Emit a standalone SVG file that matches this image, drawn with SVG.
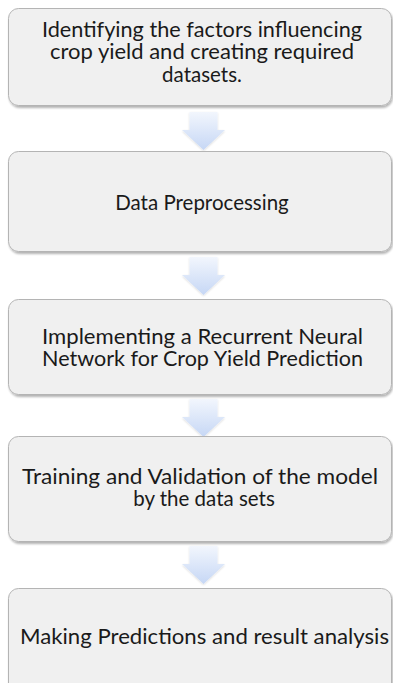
<svg xmlns="http://www.w3.org/2000/svg" width="393" height="683" viewBox="0 0 393 683">
  <defs>
    <linearGradient id="arrowFill" x1="0" y1="0" x2="0" y2="1">
      <stop offset="0" stop-color="#f2f6fd"/>
      <stop offset="1" stop-color="#c6d7f5"/>
    </linearGradient>
    <filter id="boxShadow" x="-5%" y="-5%" width="110%" height="115%">
      <feGaussianBlur in="SourceAlpha" stdDeviation="1"/>
      <feOffset dx="1" dy="1.5" result="b"/>
      <feComponentTransfer><feFuncA type="linear" slope="0.3"/></feComponentTransfer>
      <feMerge><feMergeNode/><feMergeNode in="SourceGraphic"/></feMerge>
    </filter>
    <filter id="arrowShadow" x="-20%" y="-20%" width="140%" height="140%">
      <feGaussianBlur in="SourceAlpha" stdDeviation="1"/>
      <feOffset dx="0" dy="1"/>
      <feComponentTransfer><feFuncA type="linear" slope="0.15"/></feComponentTransfer>
      <feMerge><feMergeNode/><feMergeNode in="SourceGraphic"/></feMerge>
    </filter>
    <path id="downArrow" d="M-14,0 H14 V18 H21.5 L0,38 L-21.5,18 H-14 Z"/>
  </defs>
  <style>
    .box { fill: #f0f0f0; stroke: #b4b4b4; stroke-width: 1; filter: url(#boxShadow); }
    .label { font-family: Lato, "Open Sans", sans-serif; font-size: 20.5px; fill: #1a1a1a; text-anchor: middle; }
    .arrow { fill: url(#arrowFill); stroke: none; filter: url(#arrowShadow); }
  </style>

  <rect width="393" height="683" fill="#ffffff"/>

  <!-- connectors between steps -->
  <g id="connectors">
    <use href="#downArrow" class="arrow" x="203.5" y="112"/>
    <use href="#downArrow" class="arrow" x="203.5" y="257"/>
    <use href="#downArrow" class="arrow" x="203.5" y="399"/>
    <use href="#downArrow" class="arrow" x="203.5" y="546"/>
  </g>

  <g id="step1">
    <rect class="box" x="8.5" y="8.5" width="383" height="97" rx="10"/>
    <text class="label" x="202" y="37" textLength="320" lengthAdjust="spacingAndGlyphs">Identifying the factors influencing</text>
    <text class="label" x="202" y="59" textLength="304" lengthAdjust="spacingAndGlyphs">crop yield and creating required</text>
    <text class="label" x="202" y="82">datasets.</text>
  </g>

  <g id="step2">
    <rect class="box" x="8.5" y="151.5" width="383" height="100" rx="10"/>
    <text class="label" x="202" y="210">Data Preprocessing</text>
  </g>

  <g id="step3">
    <rect class="box" x="8.5" y="299.5" width="383" height="95" rx="10"/>
    <text class="label" x="202.5" y="344" textLength="321" lengthAdjust="spacingAndGlyphs">Implementing a Recurrent Neural</text>
    <text class="label" x="202.5" y="366" textLength="321" lengthAdjust="spacingAndGlyphs">Network for Crop Yield Prediction</text>
  </g>

  <g id="step4">
    <rect class="box" x="8.5" y="436.5" width="383" height="105" rx="10"/>
    <text class="label" x="200" y="484" textLength="356" lengthAdjust="spacingAndGlyphs">Training and Validation of the model</text>
    <text class="label" x="204" y="506">by the data sets</text>
  </g>

  <g id="step5">
    <rect class="box" x="8.5" y="588.5" width="383" height="105" rx="10"/>
    <text class="label" x="204.5" y="644" textLength="369" lengthAdjust="spacingAndGlyphs">Making Predictions and result analysis</text>
  </g>
</svg>
